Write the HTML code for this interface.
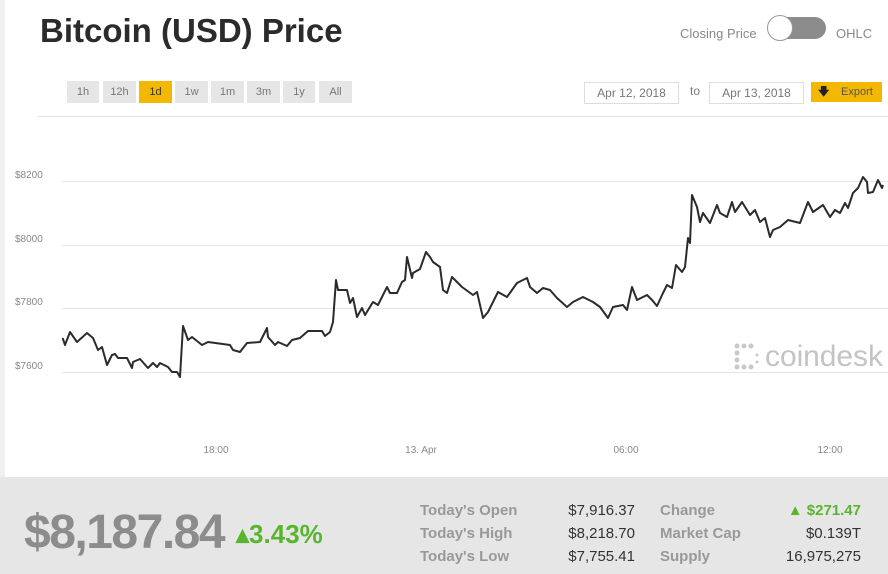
<!DOCTYPE html>
<html><head><meta charset="utf-8"><style>
body{margin:0;width:888px;height:574px;overflow:hidden;background:#fff;font-family:"Liberation Sans",sans-serif;position:relative}
.a{position:absolute}
.btn{position:absolute;top:81px;height:22px;background:#e6e6e6;color:#777;font-size:11px;line-height:22px;text-align:center}
.yl{position:absolute;left:15px;font-size:10px;color:#888}
.xl{position:absolute;top:445px;font-size:10px;color:#888;width:50px;text-align:center}
.lb{position:absolute;font-size:15px;font-weight:bold;color:#999}
.vl{position:absolute;font-size:15px;color:#333;text-align:right}
</style></head><body>
<div class="a" style="left:0;top:0;width:5px;height:477px;background:#f0f0f0"></div>
<div class="a" style="left:40px;top:12px;font-size:33px;font-weight:bold;color:#2b2b2b">Bitcoin (USD) Price</div>
<div class="a" style="left:680px;top:26px;font-size:13px;color:#888">Closing Price</div>
<div class="a" style="left:770px;top:17px;width:56px;height:22px;border-radius:11px;background:#8c8c8c"></div>
<div class="a" style="left:767px;top:15px;width:24px;height:24px;border-radius:50%;background:#fff;border:1px solid #999"></div>
<div class="a" style="left:836px;top:26px;font-size:13px;color:#888">OHLC</div>
<div class="btn" style="left:67px;width:32px">1h</div>
<div class="btn" style="left:103px;width:33px">12h</div>
<div class="btn" style="left:139px;width:33px;background:#f5b800;color:#333">1d</div>
<div class="btn" style="left:175px;width:33px">1w</div>
<div class="btn" style="left:211px;width:33px">1m</div>
<div class="btn" style="left:247px;width:33px">3m</div>
<div class="btn" style="left:283px;width:32px">1y</div>
<div class="btn" style="left:319px;width:33px">All</div>
<div class="a" style="left:584px;top:82px;width:93px;height:20px;border:1px solid #ddd;font-size:12px;color:#777;line-height:20px;text-align:center">Apr 12, 2018</div>
<div class="a" style="left:690px;top:84px;font-size:12px;color:#777">to</div>
<div class="a" style="left:709px;top:82px;width:93px;height:20px;border:1px solid #ddd;font-size:12px;color:#777;line-height:20px;text-align:center">Apr 13, 2018</div>
<div class="a" style="left:811px;top:82px;width:71px;height:20px;background:#f5b800;font-size:11px;color:#555;line-height:20px"><span style="position:absolute;left:7px;color:#222;font-weight:bold">🡇</span><span style="position:absolute;left:30px">Export</span></div>
<div class="a" style="left:37px;top:116px;width:851px;height:1px;background:#e6e6e6"></div>
<div class="yl" style="top:170px">$8200</div>
<div class="yl" style="top:234px">$8000</div>
<div class="yl" style="top:297px">$7800</div>
<div class="yl" style="top:361px">$7600</div>
<div class="xl" style="left:191px">18:00</div>
<div class="xl" style="left:396px">13. Apr</div>
<div class="xl" style="left:601px">06:00</div>
<div class="xl" style="left:805px">12:00</div>
<svg class="a" style="left:0;top:0" width="888" height="477">
<g stroke="#e6e6e6" stroke-width="1"><line x1="62" y1="181.5" x2="888" y2="181.5"/><line x1="62" y1="245.5" x2="888" y2="245.5"/><line x1="62" y1="308.5" x2="888" y2="308.5"/><line x1="62" y1="372.5" x2="888" y2="372.5"/></g>
<g fill="#c8c8c8"><circle cx="737" cy="346" r="2.5"/><circle cx="744" cy="346" r="2.5"/><circle cx="751" cy="346" r="2.5"/><circle cx="737" cy="353" r="2.5"/><circle cx="737" cy="360" r="2.5"/><circle cx="737" cy="367" r="2.5"/><circle cx="744" cy="367" r="2.5"/><circle cx="751" cy="367" r="2.5"/><circle cx="757" cy="355" r="1.5"/><circle cx="757" cy="362" r="1.5"/></g>
<text x="765" y="366" font-family="Liberation Sans,sans-serif" font-size="30" fill="#c4c4c4" textLength="118">coindesk</text>
<polyline fill="none" stroke="#2b2b2b" stroke-width="2" stroke-linejoin="round" points="62,339 63,339 65,345 70,332 77,342 87,333 93,338 98,350 102,347 107,365 112,355 115,354 118,358 127,358 132,368 133,362 140,359 148,368 153,363 157,367 160,363 168,367 172,372 177,372 180,377 183,326 188,340 192,337 202,345 208,342 230,345 233,350 240,352 247,343 260,342 267,328 268,337 275,345 278,342 287,346 292,340 300,338 308,331 322,331 325,336 330,332 333,322 336,280 338,290 347,290 350,303 353,298 357,317 362,308 365,315 373,302 378,305 387,287 390,293 397,293 402,282 405,280 407,257 412,278 413,273 420,269 426,252 430,257 433,262 440,267 443,290 447,293 452,277 462,287 473,295 477,292 483,318 488,312 498,292 507,297 517,283 527,278 530,287 537,293 543,288 550,290 557,298 567,307 573,302 583,297 593,302 600,307 608,318 613,307 623,305 627,310 632,287 637,300 647,295 652,300 657,306 663,293 667,285 672,288 676,265 682,272 685,267 688,238 690,243 692,195 697,207 700,222 703,213 710,223 717,205 720,213 727,217 732,202 735,212 742,202 750,215 755,210 760,222 765,218 770,237 773,230 780,227 788,220 800,223 808,202 813,212 823,205 830,217 835,210 840,213 845,203 848,208 853,193 858,188 863,177 867,182 868,193 873,192 878,180 882,188 883,185"/>
</svg>
<div class="a" style="left:0;top:477px;width:888px;height:97px;background:#e6e6e6"></div>
<div class="a" style="left:24px;top:505px;font-size:48px;font-weight:bold;color:#8c8c8c;letter-spacing:-1.5px">$8,187.84</div>
<div class="a" style="left:236px;top:519px;font-size:26px;font-weight:bold;color:#5ab52e">▴3.43%</div>
<div class="lb" style="left:420px;top:502px">Today's Open</div>
<div class="lb" style="left:420px;top:525px">Today's High</div>
<div class="lb" style="left:420px;top:548px">Today's Low</div>
<div class="vl" style="right:253px;top:502px">$7,916.37</div>
<div class="vl" style="right:253px;top:525px">$8,218.70</div>
<div class="vl" style="right:253px;top:548px">$7,755.41</div>
<div class="lb" style="left:660px;top:502px">Change</div>
<div class="lb" style="left:660px;top:525px">Market Cap</div>
<div class="lb" style="left:660px;top:548px">Supply</div>
<div class="vl" style="right:27px;top:502px;color:#5ab52e;font-weight:bold">▲ $271.47</div>
<div class="vl" style="right:27px;top:525px">$0.139T</div>
<div class="vl" style="right:27px;top:548px">16,975,275</div>
</body></html>
